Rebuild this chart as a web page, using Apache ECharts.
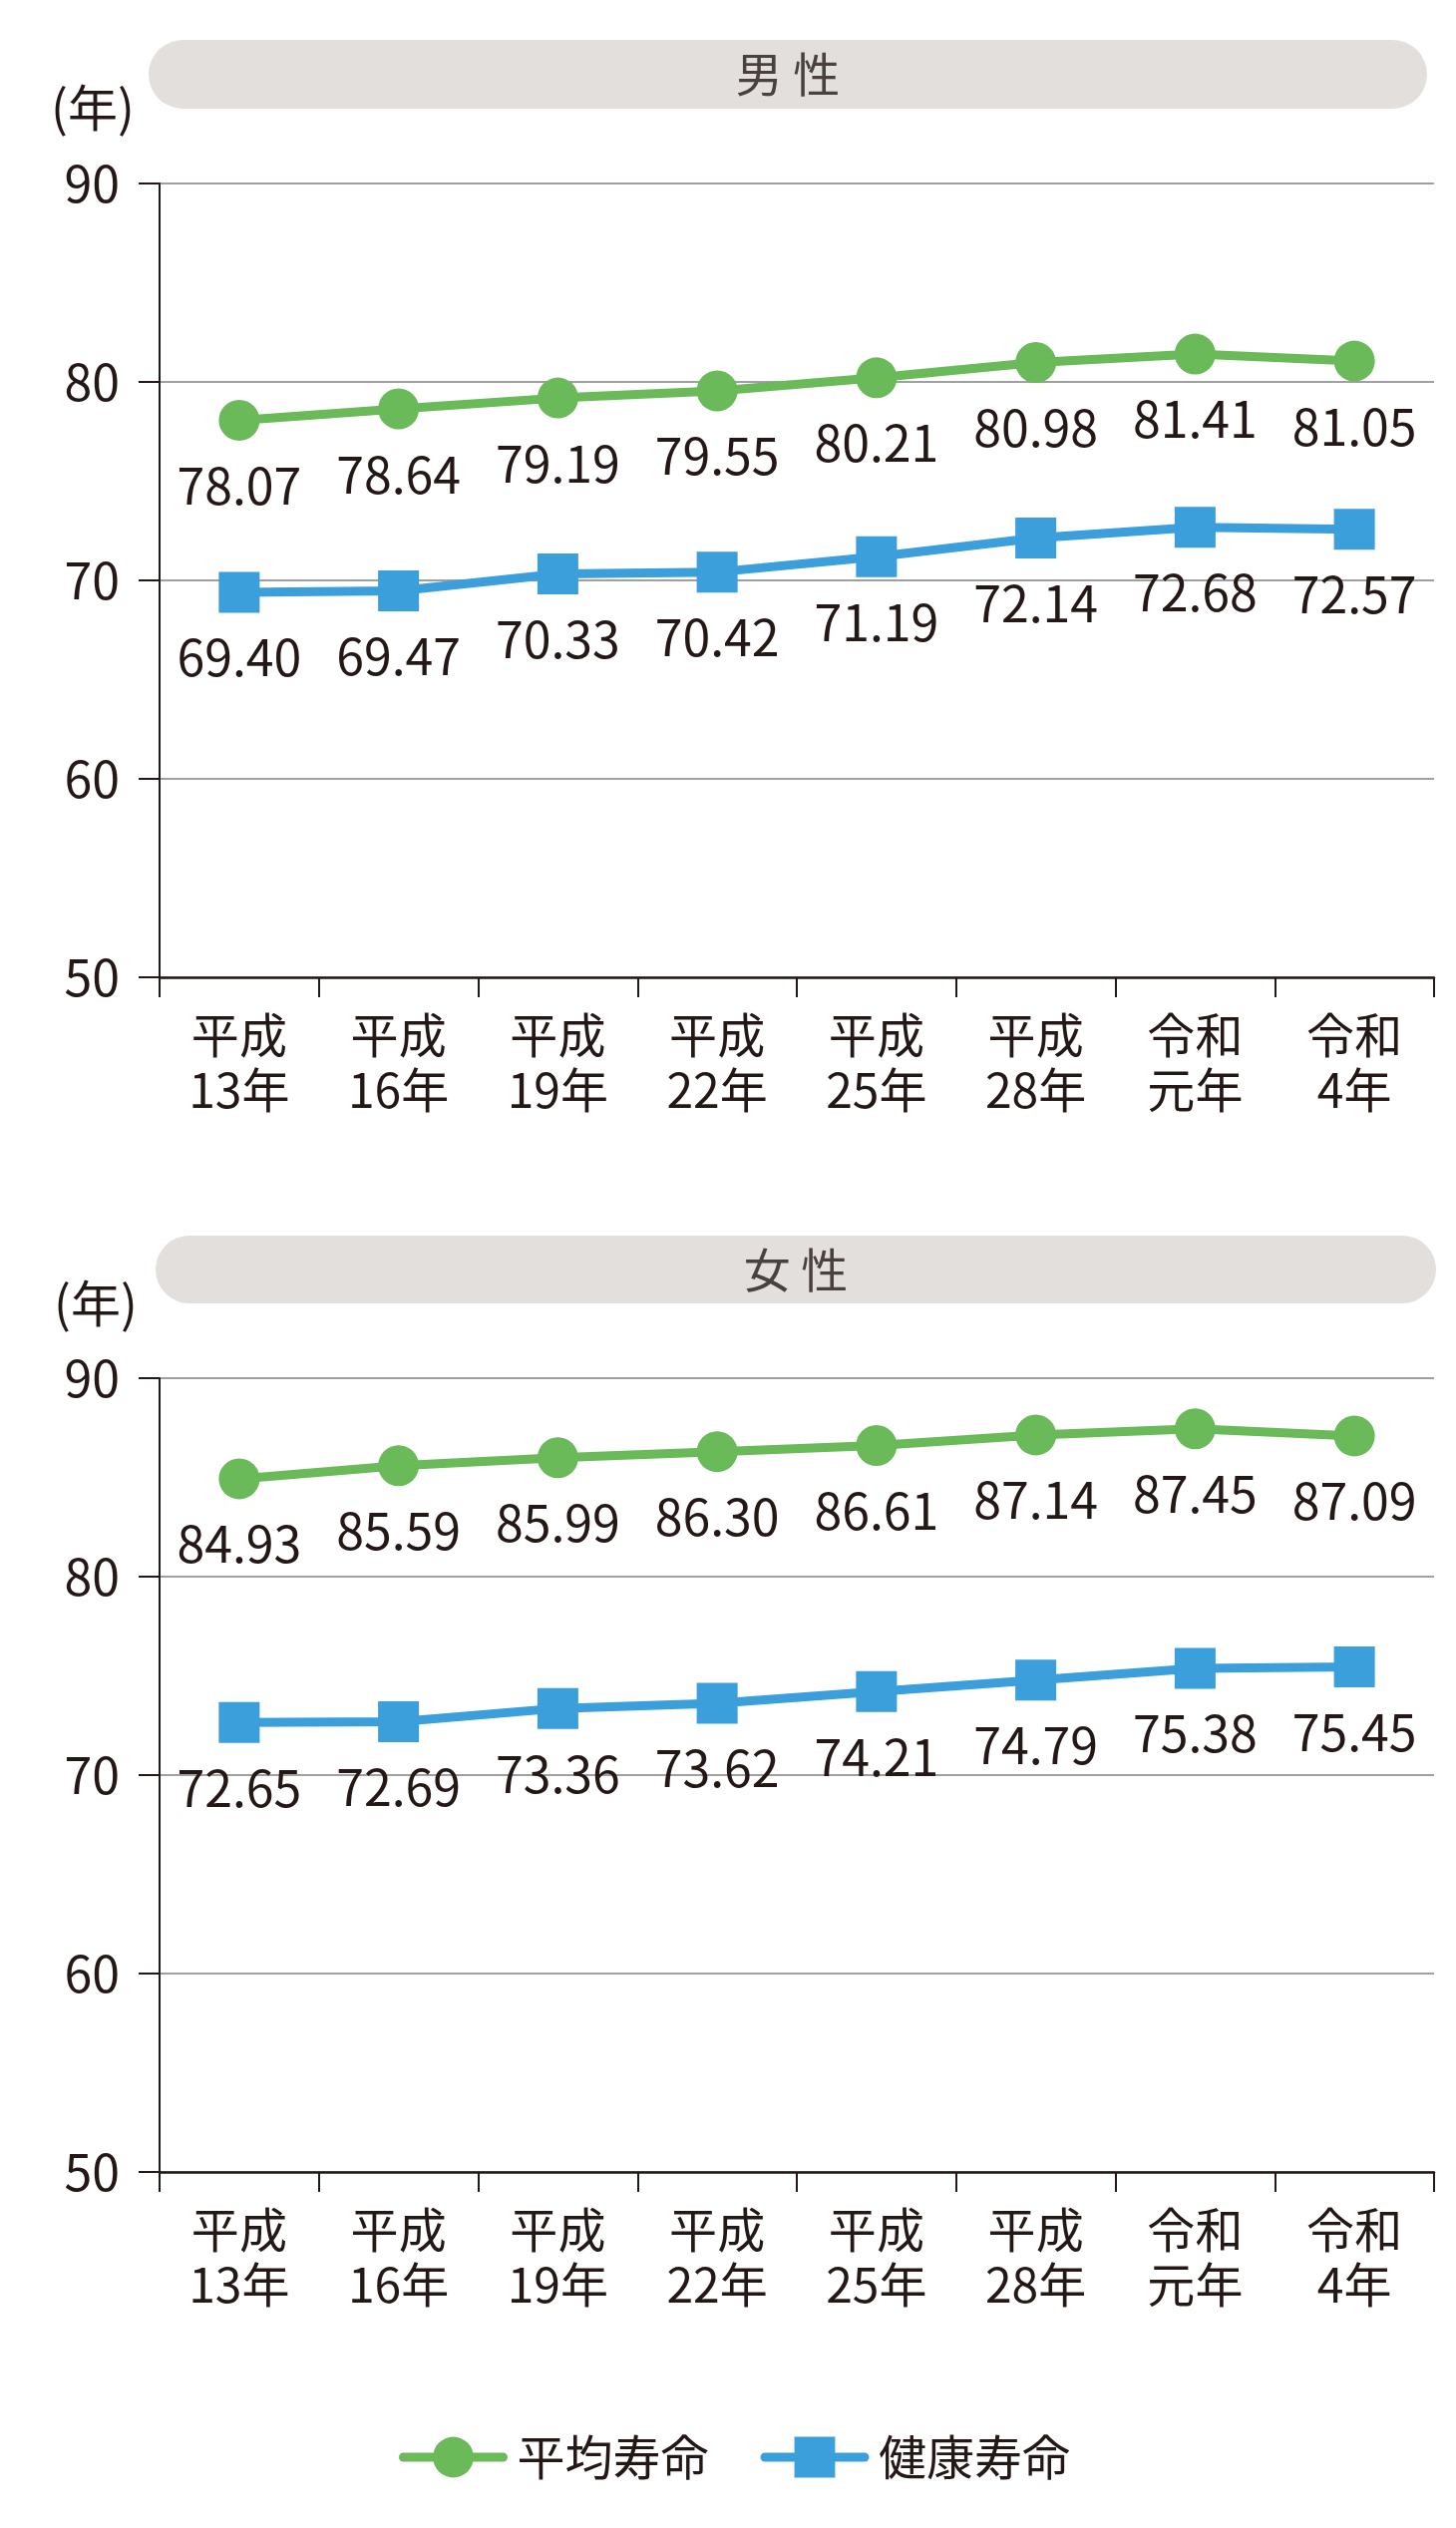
<!DOCTYPE html>
<html lang="ja">
<head>
<meta charset="utf-8">
<title>平均寿命と健康寿命</title>
<script src="https://cdn.jsdelivr.net/npm/echarts@6/dist/echarts.min.js"></script>
<style>
  html, body { margin: 0; padding: 0; background: #fff; }
  #chart { width: 1460px; height: 2535px; }
</style>
</head>
<body>
<div id="chart"></div>
<script>
// データ
const categories = ['平成\n13年', '平成\n16年', '平成\n19年', '平成\n22年', '平成\n25年', '平成\n28年', '令和\n元年', '令和\n4年']
const maleAverage = [78.07, 78.64, 79.19, 79.55, 80.21, 80.98, 81.41, 81.05]
const maleHealthy = [69.40, 69.47, 70.33, 70.42, 71.19, 72.14, 72.68, 72.57]
const femaleAverage = [84.93, 85.59, 85.99, 86.30, 86.61, 87.14, 87.45, 87.09]
const femaleHealthy = [72.65, 72.69, 73.36, 73.62, 74.21, 74.79, 75.38, 75.45]
const yMin = 50
const yMax = 90
const yStep = 10
const panelTitles = ['男 性', '女 性']
const seriesNames = ['平均寿命', '健康寿命']
const unitLabel = '(年)'

const FONT = '"Noto Sans CJK JP", "Noto Sans", sans-serif'
const TEXT = '#231815'
const GREEN = '#6aba5a'
const BLUE = '#3a9fdb'

const chart = echarts.init(document.getElementById('chart'), null, { renderer: 'canvas' })

// 共通の軸設定
function makeXAxis(gridIndex) {
  return {
    type: 'category',
    gridIndex,
    data: categories,
    boundaryGap: true,
    axisLine: { lineStyle: { color: TEXT, width: 2.5 } },
    axisTick: { show: true, length: 20, interval: 0, lineStyle: { color: TEXT, width: 2 } },
    axisLabel: {
      interval: 0,
      margin: 30,
      color: TEXT,
      fontFamily: FONT,
      fontSize: 48,
      lineHeight: 55
    }
  }
}

function makeYAxis(gridIndex) {
  return {
    type: 'value',
    gridIndex,
    min: yMin,
    max: yMax,
    interval: yStep,
    axisLine: { show: true, lineStyle: { color: TEXT, width: 2 } },
    axisTick: { show: true, length: 21, lineStyle: { color: TEXT, width: 2 } },
    axisLabel: { margin: 40, color: TEXT, fontFamily: FONT, fontSize: 50 },
    splitLine: { lineStyle: { color: '#a0a0a0', width: 2 } }
  }
}

function makeSeries(name, data, index, symbol, color) {
  return {
    name,
    type: 'line',
    xAxisIndex: index,
    yAxisIndex: index,
    data,
    symbol,
    symbolSize: 41,
    lineStyle: { color, width: 9 },
    itemStyle: { color },
    label: {
      show: true,
      position: 'bottom',
      distance: 20,
      color: TEXT,
      fontFamily: FONT,
      fontSize: 50,
      formatter: p => p.value.toFixed(2)
    },
    z: 5
  }
}

// 見出しの帯
function header(x, y, w, h, title) {
  return {
    type: 'group',
    children: [
      { type: 'rect', shape: { x, y, width: w, height: h, r: h / 2 }, style: { fill: '#e2dfdc' } },
      {
        type: 'text', x: x + w / 2, y: y + h / 2,
        style: { text: title, fill: '#4a413e', font: '47px ' + FONT, textAlign: 'center', textVerticalAlign: 'middle' }
      }
    ]
  }
}

function unitText(x, y) {
  return {
    type: 'text', x, y,
    style: { text: unitLabel, fill: TEXT, font: '50px ' + FONT, textAlign: 'center', textVerticalAlign: 'middle' }
  }
}

const option = {
  backgroundColor: '#fff',
  animation: false,
  grid: [
    { left: 160, top: 184, width: 1278, height: 796 },
    { left: 160, top: 1382, width: 1278, height: 796 }
  ],
  xAxis: [makeXAxis(0), makeXAxis(1)],
  yAxis: [makeYAxis(0), makeYAxis(1)],
  legend: {
    left: 395,
    top: 2435,
    itemWidth: 100,
    itemHeight: 51,
    itemGap: 52,
    data: seriesNames,
    lineStyle: { width: 9, cap: 'round' },
    textStyle: { color: TEXT, fontFamily: FONT, fontSize: 48, padding: [0, 0, 0, 9] }
  },
  graphic: [
    header(149, 40, 1282, 69, panelTitles[0]),
    header(156, 1239, 1284, 68, panelTitles[1]),
    unitText(93, 108),
    unitText(96, 1307)
  ],
  series: [
    makeSeries(seriesNames[0], maleAverage, 0, 'circle', GREEN),
    makeSeries(seriesNames[1], maleHealthy, 0, 'rect', BLUE),
    makeSeries(seriesNames[0], femaleAverage, 1, 'circle', GREEN),
    makeSeries(seriesNames[1], femaleHealthy, 1, 'rect', BLUE)
  ]
}

chart.setOption(option)

window.addEventListener('resize', () => {
  chart.resize()
})
</script>
</body>
</html>
